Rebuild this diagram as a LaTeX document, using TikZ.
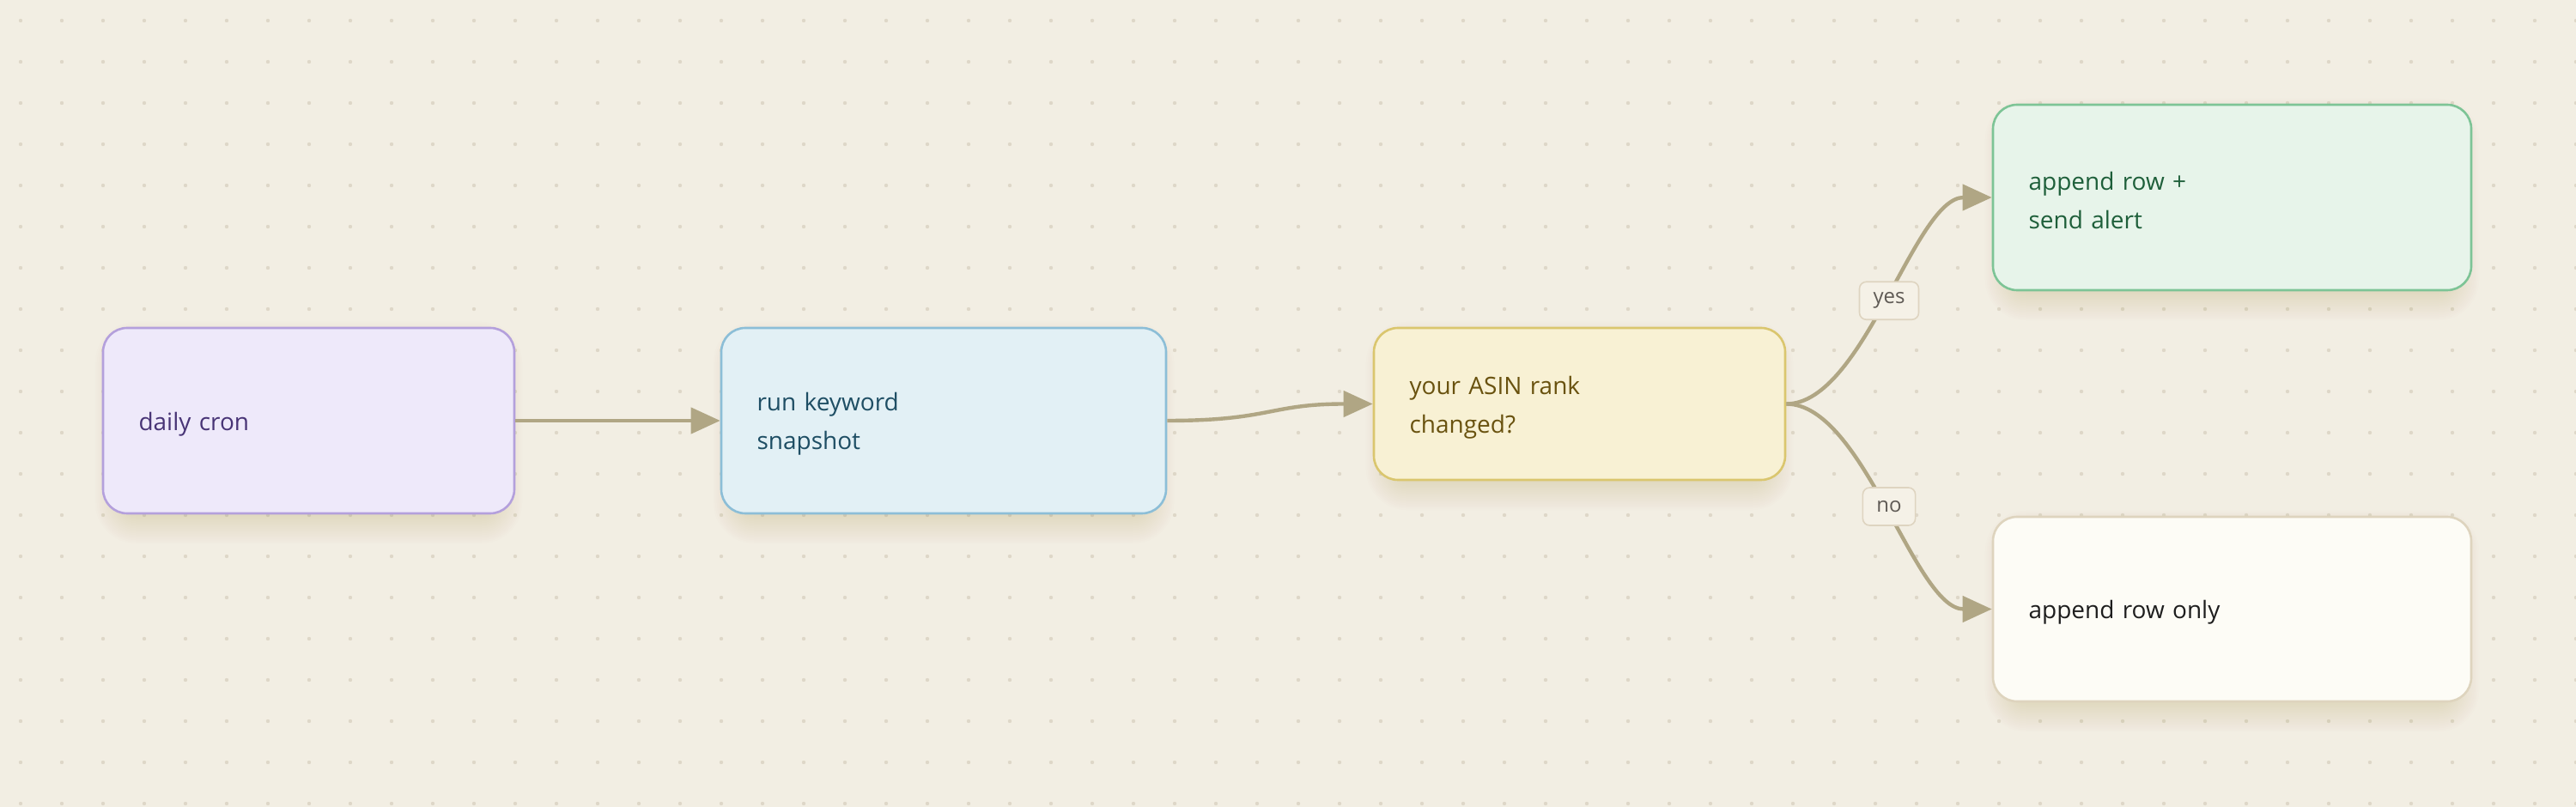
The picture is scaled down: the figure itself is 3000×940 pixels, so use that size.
\documentclass[tikz,border=0pt]{standalone}
\usepackage{fontspec}
\setmainfont{Open Sans}
\usetikzlibrary{arrows.meta}
\definecolor{bgcol}{RGB}{242,238,227}
\definecolor{dotcol}{RGB}{222,215,200}
\definecolor{edgecol}{RGB}{176,166,132}
\definecolor{cronfill}{RGB}{238,233,250}
\definecolor{crondraw}{RGB}{180,160,220}
\definecolor{crontext}{RGB}{72,52,118}
\definecolor{runfill}{RGB}{226,240,245}
\definecolor{rundraw}{RGB}{140,190,215}
\definecolor{runtext}{RGB}{30,78,100}
\definecolor{asinfill}{RGB}{248,241,212}
\definecolor{asindraw}{RGB}{218,198,110}
\definecolor{asintext}{RGB}{105,82,15}
\definecolor{alertfill}{RGB}{231,244,234}
\definecolor{alertdraw}{RGB}{125,196,150}
\definecolor{alerttext}{RGB}{30,95,58}
\definecolor{onlyfill}{RGB}{253,252,246}
\definecolor{onlydraw}{RGB}{222,212,190}
\definecolor{onlytext}{RGB}{30,30,30}
\definecolor{lblfill}{RGB}{245,241,231}
\definecolor{lbldraw}{RGB}{222,212,192}
\definecolor{lbltext}{RGB}{95,90,85}
\definecolor{shadowcol}{RGB}{130,105,60}
\pgfdeclarelayer{bglayer}
\pgfdeclarelayer{shadowlayer}
\pgfsetlayers{bglayer,shadowlayer,main}
\tikzset{
  box/.style={rectangle, rounded corners=14pt, line width=1.3pt, align=left,
    inner xsep=20pt, inner ysep=0pt,
    font=\fontsize{14}{22.5}\selectfont,
    execute at begin node={\rule{0pt}{14.6pt}}},
  cronbox/.style={box, draw=crondraw, fill=cronfill, text=crontext},
  runbox/.style={box, draw=rundraw, fill=runfill, text=runtext},
  asinbox/.style={box, draw=asindraw, fill=asinfill, text=asintext},
  alertbox/.style={box, draw=alertdraw, fill=alertfill, text=alerttext},
  onlybox/.style={box, draw=onlydraw, fill=onlyfill, text=onlytext},
  lbl/.style={rectangle, rounded corners=4pt, draw=lbldraw, fill=lblfill,
    line width=0.8pt, text=lbltext, font=\fontsize{12}{14}\selectfont,
    inner xsep=8pt, inner ysep=0pt, minimum height=22pt},
  flow/.style={draw=edgecol, line width=2.2pt, -{Triangle[length=17pt,width=15pt]}},
  shadowstep/.style={fill=shadowcol, opacity=0.008}
}
\begin{document}
\begin{tikzpicture}[x=0.5pt,y=-0.5pt]
\useasboundingbox (0,0) rectangle (3000,940);
\begin{pgfonlayer}{bglayer}
\fill[bgcol] (0,0) rectangle (3000,940);
\foreach \i in {0,...,62}{
  \foreach \j in {0,...,19}{
    \fill[dotcol] (24+48*\i,24+48*\j) circle[radius=1.1pt];
  }
}
\end{pgfonlayer}

\node[cronbox, minimum width=239.5pt, minimum height=108pt, text width=198pt] (cron) at (359.5,490) {daily cron};
\node[runbox, minimum width=259pt, minimum height=108pt, text width=217.5pt] (run) at (1099,490) {run keyword\\snapshot};
\node[asinbox, minimum width=239.5pt, minimum height=88.5pt, text width=198pt] (asin) at (1839.5,470.5) {your ASIN rank\\changed?};
\node[alertbox, minimum width=278.5pt, minimum height=108pt, text width=237pt] (alert) at (2599.5,230) {append row +\\send alert};
\node[onlybox, minimum width=278.5pt, minimum height=107.5pt, text width=237pt] (only) at (2599.5,709.5) {append row only};

\begin{pgfonlayer}{shadowlayer}
\foreach \n in {cron,run,asin,alert,only}{
  \foreach \k in {0,...,20}{
    \pgfmathsetmacro\ea{-16+\k}
    \pgfmathsetmacro\eb{16-\k}
    \pgfmathsetmacro\ec{-7-(\k-10)}
    \pgfmathsetmacro\ed{-7+(\k-10)}
    \pgfmathsetmacro\er{max(4,14+\k-10)}
    \fill[shadowstep, rounded corners=\er pt]
      ([xshift=\eb pt, yshift=\ec pt]\n.south west) rectangle
      ([xshift=\ea pt, yshift=\ed pt]\n.north east);
  }
}
\end{pgfonlayer}

\draw[flow] (cron.east) -- (run.west);
\draw[flow] (run.east) .. controls +(121,0) and +(-121,0) .. (asin.west);
\draw[flow] (asin.east) .. controls +(90,0) and +(-90,0) .. (alert.west)
  node[lbl, pos=0.5] (lyes) {yes};
\draw[flow] (asin.east) .. controls +(90,0) and +(-90,0) .. (only.west)
  node[lbl, pos=0.5] (lno) {no};
\end{tikzpicture}
\end{document}
